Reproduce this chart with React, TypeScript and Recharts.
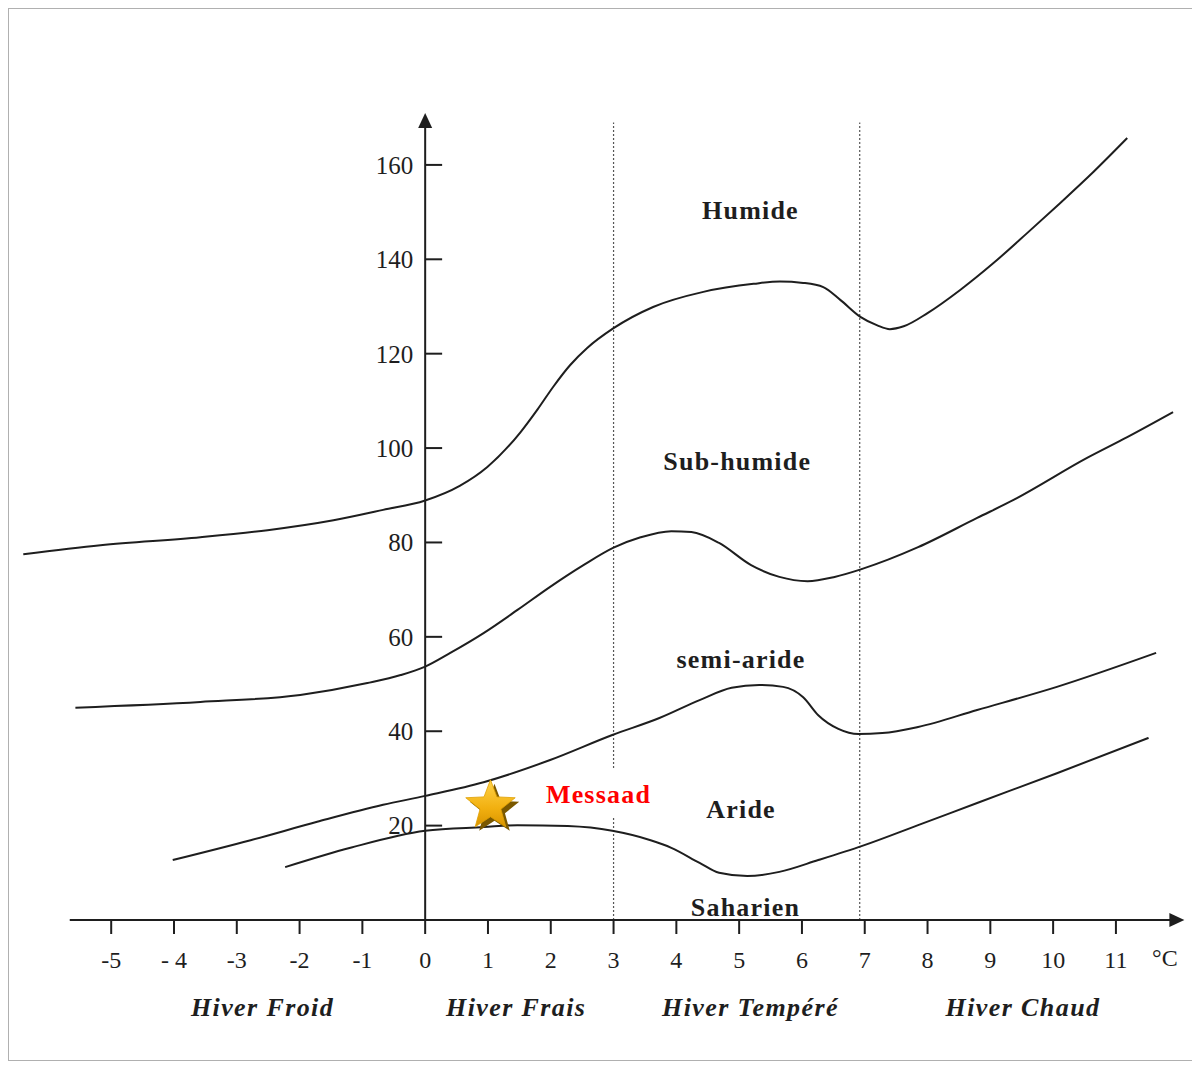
import React from 'react';
import { ComposedChart, Line, Scatter, XAxis, YAxis, ReferenceLine, ReferenceDot } from 'recharts';

// ---- data ----
const xTicks = [-5, -4, -3, -2, -1, 0, 1, 2, 3, 4, 5, 6, 7, 8, 9, 10, 11];
const xTickLabels = ['-5', '- 4', '-3', '-2', '-1', '0', '1', '2', '3', '4', '5', '6', '7', '8', '9', '10', '11'];
const yTicks = [20, 40, 60, 80, 100, 120, 140, 160];

// limit Humide / Sub-humide
const humideLimit: [number, number][] = [
  [-6.4, 77.5], [-5.17, 79.4], [-3.58, 81.1], [-2.51, 82.6], [-1.46, 84.7], [-0.67, 86.9], [0, 88.9],
  [0.55, 92.0], [0.99, 96.0], [1.52, 103.4], [1.79, 108.2], [2.04, 113.0], [2.31, 117.6], [2.58, 121.2],
  [3.0, 125.4], [3.63, 129.9], [4.43, 133.1], [5.23, 134.8], [5.65, 135.3], [6.02, 135.0], [6.34, 134.1],
  [6.61, 131.4], [6.93, 127.8], [7.2, 126.0], [7.4, 125.2], [7.62, 125.8], [8.0, 128.6], [8.52, 133.5],
  [9.05, 139.2], [9.59, 145.6], [10.11, 151.9], [10.64, 158.5], [11.18, 165.7],
];
// limit Sub-humide / semi-aride
const subHumideLimit: [number, number][] = [
  [-5.57, 45.0], [-3.58, 46.2], [-1.99, 47.7], [-0.92, 50.2], [-0.39, 51.9], [0, 53.7], [0.4, 56.6],
  [0.93, 60.8], [1.47, 65.7], [1.99, 70.6], [2.52, 75.2], [3.0, 78.9], [3.43, 81.1], [3.92, 82.4],
  [4.24, 82.2], [4.68, 79.9], [5.19, 75.2], [5.64, 72.7], [6.09, 71.8], [6.52, 72.7], [6.96, 74.4],
  [7.85, 79.0], [8.79, 85.2], [9.37, 89.0], [10.54, 97.9], [11.18, 102.3], [11.91, 107.6],
];
// limit semi-aride / Aride
const semiAridLimit: [number, number][] = [
  [-4.02, 12.7], [-2.78, 16.9], [-1.72, 20.8], [-0.67, 24.4], [0, 26.3], [0.93, 29.2], [1.99, 33.9],
  [2.98, 39.2], [3.73, 42.8], [4.37, 46.6], [4.88, 49.2], [5.32, 49.8], [5.7, 49.4], [6.02, 47.2],
  [6.26, 43.4], [6.58, 40.5], [6.9, 39.4], [7.28, 39.6], [7.85, 40.9], [8.79, 44.5], [10.06, 49.4],
  [11.64, 56.6],
];
// limit Aride / Saharien
const aridLimit: [number, number][] = [
  [-2.23, 11.2], [-1.19, 15.3], [0, 18.9], [0.93, 19.7], [1.47, 20.1], [2.27, 19.9], [2.98, 18.9],
  [3.59, 16.9], [3.92, 15.3], [4.37, 12.1], [4.68, 10.0], [5.13, 9.3], [5.64, 10.2], [6.26, 12.7],
  [6.96, 15.7], [7.85, 20.1], [8.79, 24.8], [10.06, 31.1], [11.52, 38.6],
];

const zoneNames = ['Humide', 'Sub-humide', 'semi-aride', 'Aride', 'Saharien'];
const zoneT = [5.18, 4.97, 5.03, 5.03, 5.1];
const zoneV = [150.4, 97.2, 55.1, 23.5, 2.6];

const winterNames = ['Hiver Froid', 'Hiver Frais', 'Hiver Tempéré', 'Hiver Chaud'];
const winterT = [-2.59, 1.45, 5.18, 9.52];
const winterV = -18.6;

const winterBoundaries = [3, 6.92];

const stations = [{ name: 'Messaad', t: 1.04, v: 24.2 }];

// ---- helpers ----
const toPoints = (arr: [number, number][]) => arr.map(([t, v]) => ({ t, v }));
const FONT = "'Liberation Serif', 'Times New Roman', serif";
const INK = '#1e1e1e';

const TextMark = (p: any) => (
  <text
    x={p.cx}
    y={p.cy}
    textAnchor="middle"
    dominantBaseline="central"
    fontFamily={FONT}
    fontSize={p.size}
    fontWeight={p.weight}
    fontStyle={p.italic ? 'italic' : 'normal'}
    letterSpacing={p.spacing}
    fill={p.color}
  >
    {p.text}
  </text>
);

const StationLabel = (p: any) => (
  <g>
    <rect x={p.cx - 58} y={p.cy - 26} width={120} height={48} fill="#ffffff" />
    <text
      x={p.cx}
      y={p.cy}
      textAnchor="middle"
      dominantBaseline="central"
      fontFamily={FONT}
      fontSize={26}
      fontWeight="bold"
      letterSpacing={1.2}
      fill="#ff0000"
    >
      {p.text}
    </text>
  </g>
);

const starPath = (cx: number, cy: number, R: number, r: number) => {
  const pts: string[] = [];
  for (let i = 0; i < 10; i++) {
    const ang = -Math.PI / 2 + (i * Math.PI) / 5;
    const rad = i % 2 === 0 ? R : r;
    pts.push(`${(cx + rad * Math.cos(ang)).toFixed(2)},${(cy + rad * Math.sin(ang)).toFixed(2)}`);
  }
  return pts.join(' ');
};

const StarShape = (p: any) => {
  const { cx, cy } = p;
  return (
    <g>
      <defs>
        <linearGradient id="starGold" x1="0" y1="0" x2="0" y2="1">
          <stop offset="0%" stopColor="#ffd34a" />
          <stop offset="60%" stopColor="#f2b010" />
          <stop offset="100%" stopColor="#d99400" />
        </linearGradient>
      </defs>
      <polygon points={starPath(cx + 4, cy + 4, 26, 11)} fill="#7a5800" />
      <polygon points={starPath(cx, cy, 26, 11)} fill="url(#starGold)" stroke="#e0a000" strokeWidth={0.8} />
    </g>
  );
};

const UpArrow = (p: any) => (
  <polygon points={`${p.cx},${p.cy} ${p.cx - 7},${p.cy + 15} ${p.cx + 7},${p.cy + 15}`} fill={INK} />
);
const RightArrow = (p: any) => (
  <polygon points={`${p.cx},${p.cy} ${p.cx - 15},${p.cy - 7} ${p.cx - 15},${p.cy + 7}`} fill={INK} />
);

export default function App() {
  const curves = [humideLimit, subHumideLimit, semiAridLimit, aridLimit];
  return (
    <div style={{ width: 1185, height: 1051, border: '1px solid #b0b0b0', background: '#fff' }}>
      <ComposedChart width={1185} height={1051} margin={{ top: 104, right: 9, bottom: 80, left: 8 }}>
        <XAxis
          type="number"
          dataKey="t"
          domain={[-6.5, 12.1]}
          allowDataOverflow
          ticks={xTicks}
          interval={0}
          tickFormatter={(v: number) => xTickLabels[xTicks.indexOf(v)] ?? String(v)}
          axisLine={false}
          tickLine={{ stroke: INK, strokeWidth: 2 }}
          tickSize={14}
          tickMargin={17}
          height={60}
          tick={{ fill: INK, fontSize: 24, fontFamily: FONT }}
        />
        <YAxis type="number" dataKey="v" domain={[0, 171]} allowDataOverflow hide />

        {winterBoundaries.map((b) => (
          <ReferenceLine
            key={`b${b}`}
            segment={[{ x: b, y: 0 }, { x: b, y: 169 }]}
            stroke="#555"
            strokeWidth={1.2}
            strokeDasharray="2 2"
            ifOverflow="visible"
          />
        ))}

        {/* axes drawn through origin */}
        <ReferenceLine segment={[{ x: 0, y: 0 }, { x: 0, y: 168.5 }]} stroke={INK} strokeWidth={2} ifOverflow="visible" />
        <ReferenceLine segment={[{ x: -5.66, y: 0 }, { x: 11.9, y: 0 }]} stroke={INK} strokeWidth={2} ifOverflow="visible" />
        <ReferenceDot x={0} y={171} r={0} ifOverflow="visible" shape={UpArrow} />
        <ReferenceDot x={12.09} y={0} r={0} ifOverflow="visible" shape={RightArrow} />

        {yTicks.map((v) => (
          <ReferenceLine
            key={`y${v}`}
            segment={[{ x: 0, y: v }, { x: 0.27, y: v }]}
            stroke={INK}
            strokeWidth={2}
            ifOverflow="visible"
            label={{ value: String(v), position: 'left', offset: 12, fontSize: 25, fill: INK, fontFamily: FONT }}
          />
        ))}

        {curves.map((c, i) => (
          <Line
            key={`c${i}`}
            data={toPoints(c)}
            dataKey="v"
            type="monotone"
            stroke={INK}
            strokeWidth={2}
            dot={false}
            activeDot={false}
            isAnimationActive={false}
          />
        ))}

        {zoneNames.map((n, i) => (
          <ReferenceDot
            key={`z${n}`}
            x={zoneT[i]}
            y={zoneV[i]}
            r={0}
            ifOverflow="visible"
            shape={(p: any) => <TextMark {...p} text={n} size={26} weight="bold" spacing={1.2} color={INK} />}
          />
        ))}

        {winterNames.map((n, i) => (
          <ReferenceDot
            key={`w${n}`}
            x={winterT[i]}
            y={winterV}
            r={0}
            ifOverflow="visible"
            shape={(p: any) => <TextMark {...p} text={n} size={26} weight="bold" italic spacing={1.4} color={INK} />}
          />
        ))}

        <ReferenceDot
          x={11.78}
          y={-8.05}
          r={0}
          ifOverflow="visible"
          shape={(p: any) => <TextMark {...p} text="°C" size={24} weight="normal" spacing={0} color={INK} />}
        />

        <ReferenceDot
          x={2.76}
          y={26.5}
          r={0}
          ifOverflow="visible"
          shape={(p: any) => <StationLabel {...p} text={stations[0].name} />}
        />

        <Scatter data={stations} dataKey="v" shape={StarShape} isAnimationActive={false} />
      </ComposedChart>
    </div>
  );
}
